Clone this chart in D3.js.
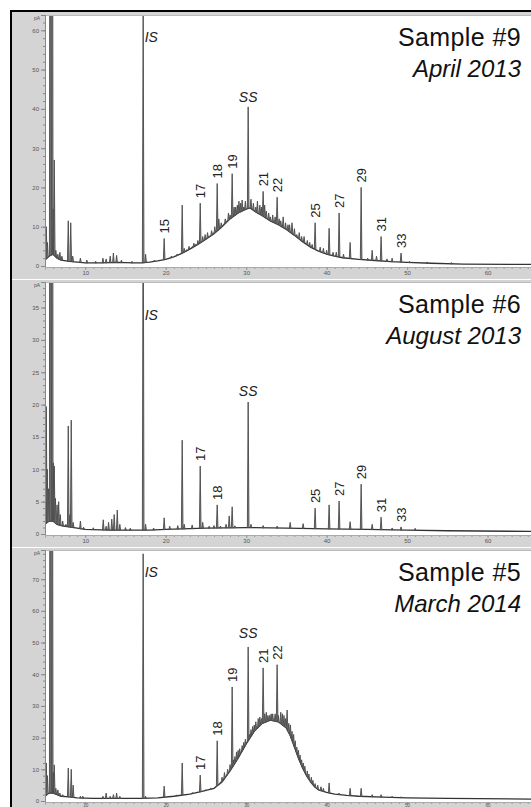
<!DOCTYPE html>
<html><head><meta charset="utf-8">
<script src="https://cdn.jsdelivr.net/npm/d3@7"></script>
<style>html,body{margin:0;padding:0;background:#fff;}svg{display:block;font-family:"Liberation Sans",Arial,sans-serif;}</style>
</head><body><svg id="c" width="531" height="807"></svg>
<script>
// ---------- DATA (retention time in min, signal in pA) ----------
const sampleNames = ["Sample #9", "Sample #6", "Sample #5"];
const sampleDates = ["April 2013", "August 2013", "March 2014"];
const xTickValues = [10, 20, 30, 40, 50, 60];
const yTicks1 = [0, 10, 20, 30, 40, 50, 60];
const yTicks2 = [0, 5, 10, 15, 20, 25, 30, 35];
const yTicks3 = [0, 10, 20, 30, 40, 50, 60, 70];

// Sample #9 – April 2013
const base1T = [5.0,5.5,6.0,6.5,7.0,8.0,9.0,10.0,12.0,14.0,16.0,17.0,18.0,19.0,20.0,21.0,22.0,23.0,24.0,25.0,26.0,27.0,28.0,29.0,30.0,30.5,31.0,32.0,33.0,34.0,35.0,36.0,37.0,38.0,39.0,40.0,41.0,42.0,44.0,46.0,48.0,50.0,53.0,57.0,65.4];
const base1V = [1.5,2.5,3.0,2.0,1.5,1.2,1.0,0.8,0.8,0.9,0.8,0.8,1.0,1.3,1.7,2.3,3.2,4.3,5.5,6.8,8.2,10.0,12.0,13.5,14.5,14.8,14.0,12.8,11.5,10.5,9.3,7.8,6.2,4.8,3.8,3.0,2.5,2.1,1.7,1.4,1.1,0.9,0.7,0.5,0.4];
const peak1T = [5.16,5.3,5.65,5.9,6.02,6.15,6.35,6.6,6.85,7.1,7.89,8.2,8.45,9.4,10.2,11.3,12.2,12.6,13.1,13.5,13.9,14.5,15.8,17.2,17.5,18.6,19.81,20.7,21.4,22.05,22.3,22.6,22.9,23.3,23.5,23.7,24.0,24.29,24.6,24.9,25.2,25.4,25.7,25.9,26.1,26.4,26.6,26.9,27.2,27.4,27.6,27.8,28.0,28.26,28.5,28.7,28.9,29.1,29.3,29.5,29.7,29.9,30.25,30.6,30.9,31.2,31.4,31.7,31.9,32.11,32.3,32.5,32.8,33.0,33.3,33.6,33.85,34.1,34.3,34.6,34.9,35.2,35.4,35.7,36.0,36.3,36.6,36.9,37.2,37.6,37.9,38.2,38.57,39.2,39.6,40.0,40.31,40.8,41.2,41.55,42.1,42.92,44.29,45.1,45.66,46.2,46.77,47.5,48.14,49.25,50.3,52.5,55.5];
const peak1V = [10,6,200,200,14.5,27,4,3,3.5,2.5,11.5,11,2.5,2,1.5,1.2,2,1.8,2.5,3.3,2.7,1.5,1.2,66,3,1.5,7,2.5,3,15.5,4.5,4,5,4.5,5.8,5.5,6.5,16,7.5,8,8.5,7.5,9,8.5,10,21,12,11,10,12,11,13.5,13,23.5,15,15,15.5,16.5,16,16.8,15,16.5,40.5,17,16,15,16.5,15.5,15,19,15.5,14,13.5,12.5,13,12.5,17.5,12,11.5,12.5,11,10.5,10.5,11,9.5,8,8.5,7.5,7.5,6.5,6,5.5,11,4.8,4.5,4,9.6,3.5,3.5,13.5,3,6,20,2,4,2.5,7.5,1.8,2,3.3,1.2,0.9,0.7];
const label1T = [19.81,24.29,26.4,28.26,32.11,33.85,38.57,41.55,44.29,46.77,49.25];
const label1Text = ["15","17","18","19","21","22","25","27","29","31","33"];

// Sample #6 – August 2013
const base2T = [5.0,5.5,6.0,6.5,7.0,7.5,8.0,9.0,10.0,13.0,16.0,18.0,20.0,25.0,30.0,35.0,40.0,45.0,50.0,55.0,65.4];
const base2V = [1.5,2.0,2.0,1.5,1.3,1.2,1.1,0.9,0.7,0.6,0.6,0.6,0.7,0.9,1.0,0.9,0.8,0.7,0.6,0.5,0.4];
const peak2T = [5.02,5.16,5.28,5.45,5.65,5.9,6.02,6.15,6.3,6.5,6.7,6.9,7.2,7.6,7.89,8.1,8.26,8.5,9.4,9.8,11.0,12.24,12.6,12.9,13.3,13.6,13.98,14.3,15.0,15.6,17.2,17.5,18.5,19.81,20.5,21.5,22.05,22.3,23.29,24.29,24.6,25.4,26.0,26.4,26.8,27.5,27.89,28.26,28.6,30.25,30.6,32.11,33.85,35.47,37.08,38.57,40.31,41.55,42.92,44.29,45.66,46.77,48.14,49.25,51.0];
const peak2V = [5,19.7,10,7,200,200,11,10.5,5.5,4.5,5,3,2,1.5,16.7,3,17.6,1.8,2,1,0.8,2.2,1.2,1.8,2.3,3,3.7,1.5,1,0.8,60,1.5,0.8,2.5,1.2,1.3,14.5,1.5,1.4,10.5,1.8,1.2,1.3,4.5,1.2,1.5,2.8,4.2,1.2,20.4,1.5,1.3,1.2,1.8,1.6,4,4.5,5.1,1.9,7.7,1.5,2.6,0.9,1.1,0.6];
const label2T = [24.29,26.4,38.57,41.55,44.29,46.77,49.25];
const label2Text = ["17","18","25","27","29","31","33"];

// Sample #5 – March 2014
const base3T = [5.0,5.5,6.0,6.5,7.0,8.0,9.0,11.0,14.0,17.0,19.0,21.0,23.0,24.5,26.0,27.0,28.0,29.0,30.0,31.0,32.0,33.0,34.0,35.0,35.5,36.0,36.5,37.0,37.5,38.0,38.5,39.0,40.0,41.0,42.5,44.0,47.0,50.0,55.0,65.4];
const base3V = [1.5,2.5,2.5,2.0,1.5,1.3,1.0,0.8,0.8,0.8,1.0,1.5,2.2,3.0,4.0,6.0,9.5,13.5,18.0,22.0,24.5,25.5,25.0,23.0,20.5,17.0,13.5,10.5,8.0,6.0,4.5,3.5,2.7,2.2,1.8,1.5,1.2,1.0,0.8,0.6];
const peak3T = [5.02,5.16,5.3,5.65,5.9,6.02,6.15,6.35,6.6,6.85,7.2,7.89,8.26,8.5,9.4,9.7,12.2,12.6,13.1,13.5,13.9,14.3,17.2,17.5,19.81,21.4,22.05,23.3,24.29,24.9,25.6,26.4,26.8,27.0,27.3,27.7,28.0,28.26,28.4,28.6,28.8,29.0,29.2,29.5,29.7,29.9,30.25,30.4,30.6,30.8,31.0,31.2,31.5,31.7,31.9,32.11,32.3,32.5,32.7,32.9,33.1,33.3,33.6,33.85,34.0,34.3,34.5,34.7,34.9,35.09,35.3,35.5,35.7,35.9,36.1,36.3,36.5,36.7,36.9,37.1,37.3,37.6,37.8,38.1,38.3,38.57,38.9,39.3,39.6,40.31,41.55,42.92,44.29,45.66,46.77,48.14,49.25];
const peak3V = [4,12,8,200,200,9,11.4,4,3.5,2.5,2,10.4,10,5,1.5,1.5,1.5,2.5,1.5,2,2.5,1.5,78,1.5,4.7,1.5,12,2.5,8.2,3.5,4,19,6,7.5,9,10,11.5,36,13,14,15.5,16,16.5,17.5,18.5,19.5,48.6,21,22.5,23.5,24,25,26,26.5,26,42,27.5,28,27,27,27.5,27.5,27.5,43,27,28,27.5,27,26,28.7,24.5,24,22,21,19,17,16,14.5,13,12,11,9.5,8.5,7.5,6.5,5.5,5,4.5,4,5.7,2.5,4,4,2,2,1.5,1.3];
const label3T = [24.29,26.4,28.26,32.11,33.85];
const label3Text = ["17","18","19","21","22"];

// ---------- LAYOUT ----------
const W = 531, H = 807;
const plotLeft = 45, plotRight = 531;
const panels = [
  {name: sampleNames[0], date: sampleDates[0], grayTop: 11, plotTop: 15, zero: 266, grayBottom: 279, yMax: 63.9, yTicks: yTicks1, minor: 2,
   bT: base1T, bV: base1V, pT: peak1T, pV: peak1V, lT: label1T, lText: label1Text, isDy: 27, ssGap: 5, xLabFont: 6, xLabPad: 1},
  {name: sampleNames[1], date: sampleDates[1], grayTop: 280, plotTop: 282, zero: 534, grayBottom: 547, yMax: 38.95, yTicks: yTicks2, minor: 1,
   bT: base2T, bV: base2V, pT: peak2T, pV: peak2V, lT: label2T, lText: label2Text, isDy: 38, ssGap: 6, xLabFont: 6, xLabPad: 1},
  {name: sampleNames[2], date: sampleDates[2], grayTop: 548, plotTop: 550, zero: 801, grayBottom: 812, yMax: 79.2, yTicks: yTicks3, minor: 2,
   bT: base3T, bV: base3V, pT: peak3T, pV: peak3V, lT: label3T, lText: label3Text, isDy: 27, ssGap: 9, xLabFont: 4.5, xLabPad: -1}
];

const svg = d3.select("#c");
svg.append("rect").attr("x",0).attr("y",0).attr("width",W).attr("height",H).attr("fill","#fff");

const x = d3.scaleLinear().domain([5.0, 65.4]).range([plotLeft, plotRight]);

function baseAt(bt, bv, t) {
  const i = d3.bisectLeft(bt, t);
  if (i <= 0) return bv[0];
  if (i >= bt.length) return bv[bv.length - 1];
  const f = (t - bt[i-1]) / (bt[i] - bt[i-1]);
  return bv[i-1] + f * (bv[i] - bv[i-1]);
}

panels.forEach((p, k) => {
  const g = svg.append("g");
  g.append("rect").attr("x", 12).attr("y", p.grayTop).attr("width", W - 12).attr("height", p.grayBottom - p.grayTop).attr("fill", "#d4d4d4");
  g.append("rect").attr("x", plotLeft).attr("y", p.plotTop).attr("width", plotRight - plotLeft).attr("height", p.zero + 1 - p.plotTop).attr("fill", "#fff");
  g.append("line").attr("x1", plotLeft).attr("x2", plotRight).attr("y1", p.plotTop + 0.5).attr("y2", p.plotTop + 0.5).attr("stroke", "#bbb");

  const y = d3.scaleLinear().domain([0, p.yMax]).range([p.zero, p.plotTop]);

  const minorVals = d3.range(0, p.yMax, p.minor);
  const yMinor = g.append("g").attr("transform", `translate(${plotLeft},0)`)
    .call(d3.axisLeft(y).tickValues(minorVals).tickSize(2).tickFormat(""));
  const yAx = g.append("g").attr("transform", `translate(${plotLeft},0)`)
    .call(d3.axisLeft(y).tickValues(p.yTicks).tickSize(4).tickPadding(2));
  [yMinor, yAx].forEach(a => { a.select(".domain").attr("stroke", "#888"); a.selectAll("line").attr("stroke", "#888"); });
  yAx.selectAll("text").attr("font-size", 6).attr("fill", "#555");
  g.append("text").attr("x", 37).attr("y", p.plotTop + 5).attr("text-anchor", "middle").attr("font-size", 5).attr("fill", "#555").text("pA");

  const xMinor = g.append("g").attr("transform", `translate(0,${p.zero + 1})`)
    .call(d3.axisBottom(x).tickValues(d3.range(5, 66, 1)).tickSize(2).tickFormat(""));
  const xAx = g.append("g").attr("transform", `translate(0,${p.zero + 1})`)
    .call(d3.axisBottom(x).tickValues(xTickValues).tickSize(3).tickPadding(p.xLabPad));
  [xMinor, xAx].forEach(a => { a.select(".domain").attr("stroke", "#aaa"); a.selectAll("line").attr("stroke", "#999"); });
  xAx.selectAll("text").attr("font-size", p.xLabFont).attr("fill", "#555");

  const cid = "clip" + k;
  svg.append("clipPath").attr("id", cid).append("rect")
    .attr("x", plotLeft + 1).attr("y", p.plotTop + 1).attr("width", plotRight - plotLeft).attr("height", p.zero - p.plotTop);
  const trace = g.append("g").attr("clip-path", `url(#${cid})`);

  const line = d3.line().x(d => x(d[0])).y(d => y(d[1]));
  const basePts = p.bT.map((t, i) => [t, p.bV[i]]);
  trace.append("path").attr("d", line(basePts)).attr("fill", "none").attr("stroke", "#333").attr("stroke-width", 1.3);

  const w = 0.1;
  p.pT.forEach((t, i) => {
    const b0 = baseAt(p.bT, p.bV, t - w), b1 = baseAt(p.bT, p.bV, t + w);
    const apex = Math.max(p.pV[i], baseAt(p.bT, p.bV, t) + 0.3);
    const pts = [[t - w, b0], [t, apex], [t + w, b1]];
    trace.append("path").attr("d", line(pts) + "Z")
      .attr("fill", "#8a8a8a").attr("stroke", "#4a4a4a").attr("stroke-width", 0.9).attr("stroke-linejoin", "round");
  });

  p.lT.forEach((t, i) => {
    const j = p.pT.indexOf(t);
    const yy = y(p.pV[j]) - 5;
    g.append("text").attr("transform", `translate(${x(t)},${yy}) rotate(-90)`)
      .attr("dy", "0.36em").attr("font-size", 13).attr("fill", "#222").text(p.lText[i]);
  });

  const isT = 17.2, ssT = 30.25;
  g.append("text").attr("x", x(isT) + 1.5).attr("y", p.plotTop + p.isDy).attr("font-size", 14)
    .attr("font-style", "italic").attr("fill", "#222").text("IS");
  const ssV = p.pV[p.pT.indexOf(ssT)];
  g.append("text").attr("x", x(ssT)).attr("y", y(ssV) - p.ssGap).attr("text-anchor", "middle").attr("font-size", 14)
    .attr("font-style", "italic").attr("fill", "#222").text("SS");

  g.append("text").attr("x", 521).attr("y", p.plotTop + 31).attr("text-anchor", "end").attr("font-size", 25).attr("letter-spacing", 0.4).attr("fill", "#111").text(p.name);
  g.append("text").attr("x", 521).attr("y", p.plotTop + 62).attr("text-anchor", "end").attr("font-size", 24).attr("font-style", "italic").attr("fill", "#111").text(p.date);
});

svg.append("line").attr("x1", 11).attr("x2", 11).attr("y1", 10).attr("y2", H).attr("stroke", "#000").attr("stroke-width", 2);
svg.append("line").attr("x1", 10).attr("x2", W).attr("y1", 11).attr("y2", 11).attr("stroke", "#000").attr("stroke-width", 2);
</script></body></html>
